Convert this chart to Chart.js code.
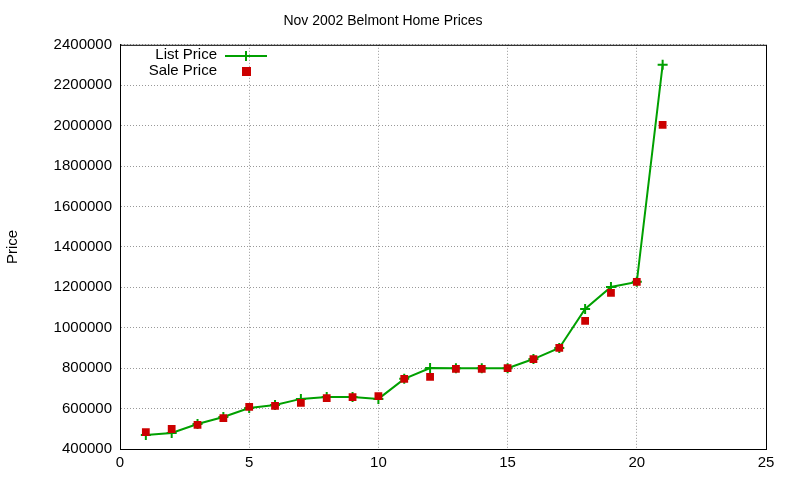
<!DOCTYPE html>
<html><head><meta charset="utf-8">
<script src="https://cdn.jsdelivr.net/npm/chart.js@4"></script>
<style>html,body{margin:0;padding:0;background:#fff}#c{width:800px;height:480px}</style>
</head><body><div id="c"><canvas id="cv" width="800" height="480"></canvas></div>
<script>
const houses = [1,2,3,4,5,6,7,8,9,10,11,12,13,14,15,16,17,18,19,20,21];
const listPrice = [469000,479000,524000,558000,603000,618000,648000,657000,657000,648000,747000,801000,800000,800000,800000,845000,900000,1093000,1202000,1227000,2301000];
const salePrice = [484000,499000,519000,553000,608000,613000,628000,652000,657000,662000,747000,757000,797000,797000,800000,845000,900000,1034000,1172000,1227000,2004000];
const xTicks = [0,5,10,15,20,25];
const yTicks = [400000,600000,800000,1000000,1200000,1400000,1600000,1800000,2000000,2200000,2400000];
const FONT = "'Liberation Sans', Arial, sans-serif";

const legendPlugin = {
  id:'lg',
  afterDraw(ch){
    const c = ch.ctx; c.save();
    c.font = "15px " + FONT; c.textAlign='right'; c.textBaseline='middle'; c.fillStyle='#000';
    c.fillText('List Price', 217, 55);
    c.fillText('Sale Price', 217, 71);
    c.strokeStyle='#00a000'; c.lineWidth=2;
    c.beginPath(); c.moveTo(225,56); c.lineTo(267,56); c.stroke();
    c.beginPath(); c.moveTo(246,51); c.lineTo(246,61); c.moveTo(241,56); c.lineTo(251,56); c.stroke();
    c.fillStyle='#cc0000'; c.fillRect(242,67,9,9);
    c.restore();
  }
};

new Chart(document.getElementById('cv'), {
  type:'scatter',
  data:{datasets:[
    {label:'List Price', data:houses.map((x,i)=>({x,y:listPrice[i]})), showLine:true, borderColor:'#00a000', backgroundColor:'#00a000', borderWidth:2, pointStyle:'cross', pointRadius:5, pointBorderWidth:2, order:2},
    {label:'Sale Price', data:houses.map((x,i)=>({x,y:salePrice[i]})), showLine:false, borderColor:'#cc0000', backgroundColor:'#cc0000', pointStyle:'rect', pointRadius:5.5, borderWidth:0, order:1}
  ]},
  options:{
    responsive:false, animation:false, devicePixelRatio:1,
    layout:{padding:{top:0,right:34,bottom:0,left:0}},
    plugins:{
      legend:{display:false}, tooltip:{enabled:false},
      title:{display:true, text:'Nov 2002 Belmont Home Prices', color:'#000', font:{family:FONT,size:14,weight:'normal'}, padding:{top:13,bottom:15}}
    },
    scales:{
      x:{type:'linear', min:0, max:25, afterBuildTicks(a){a.ticks=xTicks.map(v=>({value:v}));},
        grid:{color:'#999', drawTicks:false}, border:{color:'#000',width:1,dash:[1,2]},
        ticks:{color:'#000', font:{family:FONT,size:15}, padding:5},
        afterFit(a){a.height=31;}},
      y:{min:400000, max:2400000, afterBuildTicks(a){a.ticks=yTicks.map(v=>({value:v}));},
        grid:{color:'#999', drawTicks:false}, border:{color:'#000',width:1,dash:[1,2]},
        ticks:{color:'#000', font:{family:FONT,size:15}, padding:8, callback:v=>String(v)},
        title:{display:true, text:'Price', color:'#000', font:{family:FONT,size:15}},
        afterFit(a){a.width=120;}}
    }
  },
  plugins:[legendPlugin, {id:'frame', afterDraw(ch){const c=ch.ctx,a=ch.chartArea;c.save();c.strokeStyle='#000';c.lineWidth=1;c.strokeRect(a.left+0.5,a.top+0.5,a.right-a.left,a.bottom-a.top);c.restore();}}]
});
</script></body></html>
